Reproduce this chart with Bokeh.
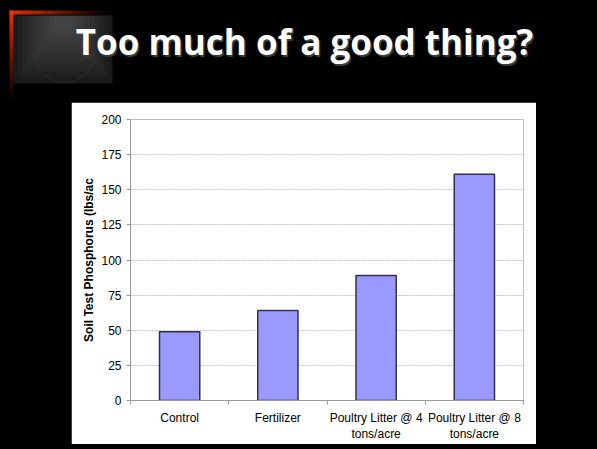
from bokeh.plotting import figure
from bokeh.models import Range1d, FixedTicker, Label, ColumnDataSource, Spacer
from bokeh.layouts import column, row
from bokeh.embed import file_html
from bokeh.resources import INLINE

categories = ["Control", "Fertilizer", "Poultry Litter @ 4\ntons/acre", "Poultry Litter @ 8\ntons/acre"]
values = [49, 64, 89, 161]
y_ticks = [0, 25, 50, 75, 100, 125, 150, 175, 200]
title_text = "Too much of a good thing?"
y_label = "Soil Test Phosphorus (lbs/ac"

W, H = 597, 449
PL, PR, PT, PB = 71, 536, 102, 444      # white chart panel on the slide
FL, FR, FT, FB = 130, 523, 119, 400     # plot frame on the slide

# ---------------- header (slide title + corner ornament) ----------------
hd = figure(width=W, height=PT, output_backend="svg", toolbar_location=None, title=None,
            x_range=Range1d(0, W), y_range=Range1d(PT, 0),
            x_axis_type=None, y_axis_type=None, min_border=0,
            min_border_left=0, min_border_right=0, min_border_top=0, min_border_bottom=0)
hd.border_fill_color = "black"
hd.background_fill_color = "black"
hd.outline_line_color = None
hd.grid.visible = False

# grey glow box
hd.quad(left=[13], right=[112], top=[15], bottom=[83], fill_color="#161616", line_color=None)
gl, gr, gt, gb = [], [], [], []
for i in range(10):
    gl.append(13 + i * 4.5); gr.append(112 - i * 4.5); gt.append(15); gb.append(83 - i * 6)
hd.quad(left=gl, right=gr, top=gt, bottom=gb, fill_color="white", fill_alpha=0.024, line_color=None)
# faint arch
hd.arc(x=[64], y=[52], radius=30, start_angle=0.0, end_angle=3.1416, direction="clock",
       line_color="#444444", line_width=2, line_alpha=0.18)
# red fading corner lines
n = 22
rl, rr, rt, rb, ra = [], [], [], [], []
for i in range(n):
    a = max(0.0, 1 - i / n) ** 1.2
    rl.append(9 + i * 4.6); rr.append(13.8 + i * 4.6); rt.append(10); rb.append(14); ra.append(a)
    rl.append(9); rr.append(13); rt.append(10 + i * 4.2); rb.append(14.4 + i * 4.2); ra.append(a)
hd.quad(left=rl, right=rr, top=rt, bottom=rb, fill_color="#e8300c", fill_alpha=ra, line_color=None)

for dx, dy, col in [(1.5, 1.5, "#3a3a3a"), (0, 0, "white")]:
    hd.add_layout(Label(x=304 + dx, y=41 + dy, x_units="data", y_units="data",
                        text=title_text,
                        text_align="center", text_baseline="alphabetic",
                        text_font="Open Sans", text_font_style="bold", text_font_size="35px",
                        text_color=col))

# ---------------- chart ----------------
p = figure(width=PR - PL, height=PB - PT, output_backend="svg", toolbar_location=None, title=None,
           x_range=Range1d(0, len(categories)), y_range=Range1d(0, 200),
           min_border_left=FL - PL, min_border_right=PR - FR,
           min_border_top=FT - PT, min_border_bottom=PB - FB)
p.border_fill_color = "white"
p.background_fill_color = "white"
p.outline_line_color = None

centers = [i + 0.5 for i in range(len(categories))]
src = ColumnDataSource(dict(x=centers, top=values))
p.vbar(x="x", top="top", width=0.41, bottom=0, source=src,
       fill_color="#9999FF", line_color="#333344", line_width=1.5)

xa = p.xaxis[0]
xa.ticker = FixedTicker(ticks=centers, minor_ticks=list(range(len(categories) + 1)))
xa.major_label_overrides = {c: lab for c, lab in zip(centers, categories)}
xa.major_tick_line_color = None
xa.major_tick_out = 0
xa.major_tick_in = 0
xa.minor_tick_out = 4
xa.minor_tick_in = 0
xa.minor_tick_line_color = "#999999"
xa.axis_line_color = "#999999"
xa.major_label_text_font = "Liberation Sans"
xa.major_label_text_font_size = "12px"
xa.major_label_text_color = "#000000"
xa.major_label_standoff = 6

ya = p.yaxis[0]
ya.ticker = FixedTicker(ticks=y_ticks)
ya.minor_tick_line_color = None
ya.major_tick_out = 4
ya.major_tick_in = 0
ya.major_tick_line_color = "#999999"
ya.axis_line_color = "#999999"
ya.major_label_text_font = "Liberation Sans"
ya.major_label_text_font_size = "12px"
ya.major_label_text_color = "#000000"
ya.major_label_standoff = 5
ya.axis_label = y_label
ya.axis_label_text_font = "Liberation Sans"
ya.axis_label_text_font_style = "bold"
ya.axis_label_text_font_size = "12px"
ya.axis_label_text_color = "#000000"
ya.axis_label_standoff = 2

p.xgrid.grid_line_color = None
p.ygrid.grid_line_color = "#c4c4c4"
p.ygrid.grid_line_dash = "2 1"
p.ygrid.grid_line_width = 1

black = {"background-color": "black"}
layout = column(
    hd,
    row(Spacer(width=PL, height=PB - PT, styles=black), p,
        Spacer(width=W - PR, height=PB - PT, styles=black), styles=black),
    Spacer(width=W, height=H - PB, styles=black),
    styles=black, width=W, height=H,
)

open("out.html", "w").write(file_html(layout, INLINE))
